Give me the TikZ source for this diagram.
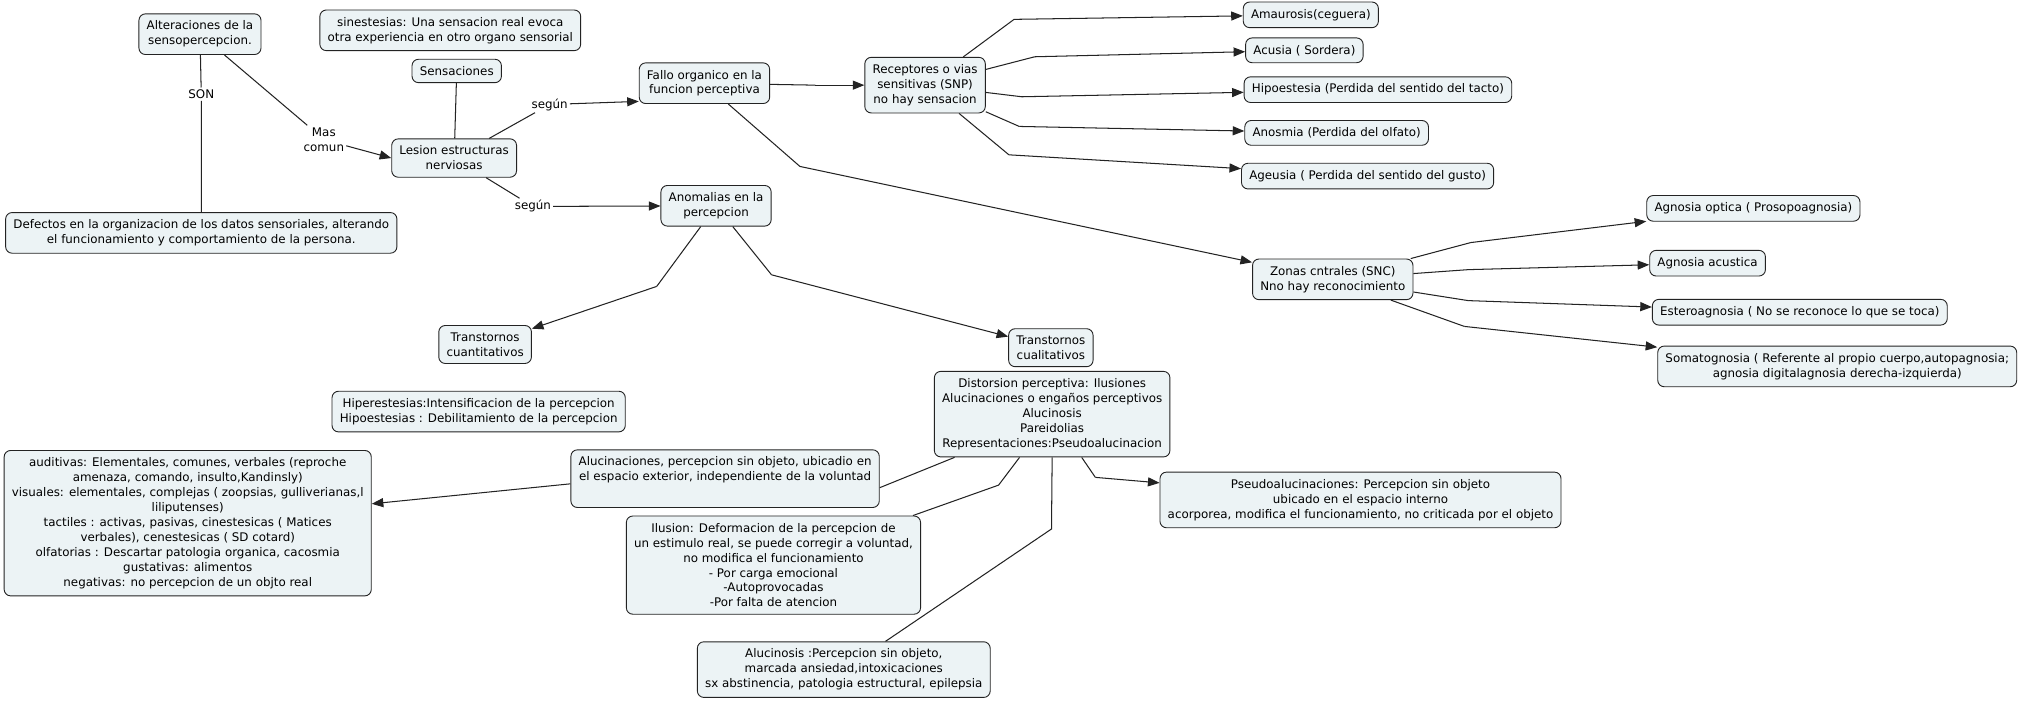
\documentclass[tikz,border=0pt]{standalone}
\usepackage{fontspec}
\setmainfont{DejaVu Sans}
\usetikzlibrary{arrows.meta}
\definecolor{cfill}{RGB}{236,243,245}
\definecolor{cline}{RGB}{35,35,35}
\begin{document}
\begin{tikzpicture}[x=1pt,y=-1pt,
  concept/.style={draw=cline, fill=cfill, rounded corners=5pt, align=center, inner xsep=6pt, inner ysep=5.5pt, font=\fontsize{9.2}{11.6}\selectfont, line width=0.7pt},
  lab/.style={align=center, inner sep=1.5pt, fill=white, font=\fontsize{9.2}{11.6}\selectfont},
  conn/.style={draw=cline, line width=0.8pt},
  arr/.style={conn, -{Triangle[length=9pt,width=7pt]}}]
\fill[white] (0,0) rectangle (1568,543);
\useasboundingbox (0,0) rectangle (1568,543);

% concepts
\node[concept] (alt) at (155,26.5) {Alteraciones de la\\sensopercepcion.};
\node[concept] (sin) at (349,23.5) {sinestesias: Una sensacion real evoca\\otra experiencia en otro organo sensorial};
\node[concept] (sen) at (354,55) {Sensaciones};
\node[concept] (les) at (352,122.5) {Lesion estructuras\\nerviosas};
\node[concept] (fal) at (546,64.5) {Fallo organico en la\\funcion perceptiva};
\node[concept] (rec) at (717,66) {Receptores o vias\\sensitivas (SNP)\\no hay sensacion};
\node[concept] (ama) at (1016,11.5) {Amaurosis(ceguera)};
\node[concept] (acu) at (1011,39) {Acusia ( Sordera)};
\node[concept] (hip) at (1068,69.5) {Hipoestesia (Perdida del sentido del tacto)};
\node[concept] (ano) at (1036,103) {Anosmia (Perdida del olfato)};
\node[concept] (age) at (1060,136.5) {Ageusia ( Perdida del sentido del gusto)};
\node[concept] (def) at (156,180.5) {Defectos en la organizacion de los datos sensoriales, alterando\\el funcionamiento y comportamiento de la persona.};
\node[concept] (anm) at (555,159.5) {Anomalias en la\\percepcion};
\node[concept] (zon) at (1033,216.5) {Zonas cntrales (SNC)\\Nno hay reconocimiento};
\node[concept] (ago) at (1359,161.5) {Agnosia optica ( Prosopoagnosia)};
\node[concept] (aga) at (1323.5,204) {Agnosia acustica};
\node[concept] (est) at (1395,242) {Esteroagnosia ( No se reconoce lo que se toca)};
\node[concept] (som) at (1424,284) {Somatognosia ( Referente al propio cuerpo,autopagnosia;\\agnosia digitalagnosia derecha-izquierda)};
\node[concept] (cun) at (376,267) {Transtornos\\cuantitativos};
\node[concept] (cul) at (814.5,269.5) {Transtornos\\cualitativos};
\node[concept] (hpe) at (371,319) {Hiperestesias:Intensificacion de la percepcion\\Hipoestesias : Debilitamiento de la percepcion};
\node[concept] (dis) at (815.5,321) {Distorsion perceptiva: Ilusiones\\Alucinaciones o engaños perceptivos\\Alucinosis\\Pareidolias\\Representaciones:Pseudoalucinacion};
\node[concept] (aud) at (145.5,405.5) {auditivas: Elementales, comunes, verbales (reproche\\amenaza, comando, insulto,Kandinsly)\\visuales: elementales, complejas ( zoopsias, gulliverianas,l\\liliputenses)\\tactiles : activas, pasivas, cinestesicas ( Matices\\verbales), cenestesicas ( SD cotard)\\olfatorias : Descartar patologia organica, cacosmia\\gustativas: alimentos\\negativas: no percepcion de un objto real};
\node[concept] (alu) at (562,371) {Alucinaciones, percepcion sin objeto, ubicadio en\\el espacio exterior, independiente de la voluntad\\\strut};
\node[concept] (pse) at (1054.5,387.5) {Pseudoalucinaciones: Percepcion sin objeto\\ubicado en el espacio interno\\acorporea, modifica el funcionamiento, no criticada por el objeto};
\node[concept] (ilu) at (599.5,438) {Ilusion: Deformacion de la percepcion de\\un estimulo real, se puede corregir a voluntad,\\no modifica el funcionamiento\\- Por carga emocional\\-Autoprovocadas\\-Por falta de atencion};
\node[concept] (alc) at (654,519) {Alucinosis :Percepcion sin objeto,\\marcada ansiedad,intoxicaciones\\sx abstinencia, patologia estructural, epilepsia};

% link labels
\node[lab] (son) at (156,73) {SON};
\node[lab] (mas) at (251,108) {Mas\\comun};
\node[lab] (sg1) at (426,81) {según};
\node[lab] (sg2) at (413,160) {según};

% empty link points
\coordinate (c1) at (632,66);
\coordinate (c2) at (620,129);
\coordinate (r1) at (786,15);
\coordinate (r2) at (802,44);
\coordinate (r3) at (792,75);
\coordinate (r4) at (790,98);
\coordinate (r5) at (782,120);
\coordinate (z1) at (1140,188);
\coordinate (z2) at (1138,209);
\coordinate (z3) at (1138,233);
\coordinate (z4) at (1135,253);
\coordinate (a1) at (509,222);
\coordinate (a2) at (598,213);
\coordinate (d2) at (774,376);
\coordinate (d3) at (815,410);
\coordinate (d4) at (849,370);

% connectors
\draw[conn] (alt) -- (son) -- (def);
\draw[conn] (alt) -- (mas);
\draw[arr] ([yshift=-5pt]mas.east) -- (les.west);
\draw[conn] (sen) -- (les);
\draw[conn] (les) -- (sg1);
\draw[arr] (sg1) -- ([yshift=2pt]fal.south west);
\draw[conn] (les) -- (sg2);
\draw[arr] (sg2) -- (anm);
\draw[conn] (fal) -- (c1);
\draw[arr] (c1) -- (rec);
\draw[conn] (fal) -- (c2);
\draw[arr] (c2) -- (zon);
\draw[conn] (rec) -- (r1); \draw[arr] (r1) -- (ama);
\draw[conn] (rec) -- (r2); \draw[arr] (r2) -- (acu);
\draw[conn] (rec) -- (r3); \draw[arr] (r3) -- (hip);
\draw[conn] (rec) -- (r4); \draw[arr] (r4) -- (ano);
\draw[conn] (rec) -- (r5); \draw[arr] (r5) -- (age);
\draw[conn] (zon) -- (z1); \draw[arr] (z1) -- (ago);
\draw[conn] (zon) -- (z2); \draw[arr] (z2) -- (aga);
\draw[conn] (zon) -- (z3); \draw[arr] (z3) -- (est);
\draw[conn] (zon) -- (z4); \draw[arr] (z4) -- (som);
\draw[conn] (anm) -- (a1); \draw[arr] (a1) -- (cun);
\draw[conn] (anm) -- (a2); \draw[arr] (a2) -- (cul);
\draw[conn] ([xshift=16pt]dis.south west) -- ([yshift=-7pt]alu.east);
\draw[arr] ([yshift=-4pt]alu.west) -- ([yshift=15pt]aud.east);
\draw[conn] (dis) -- (d2) -- (ilu);
\draw[conn] (dis.south) -- (d3) -- (alc);
\draw[conn] (dis) -- (d4); \draw[arr] (d4) -- (pse);
\end{tikzpicture}
\end{document}
